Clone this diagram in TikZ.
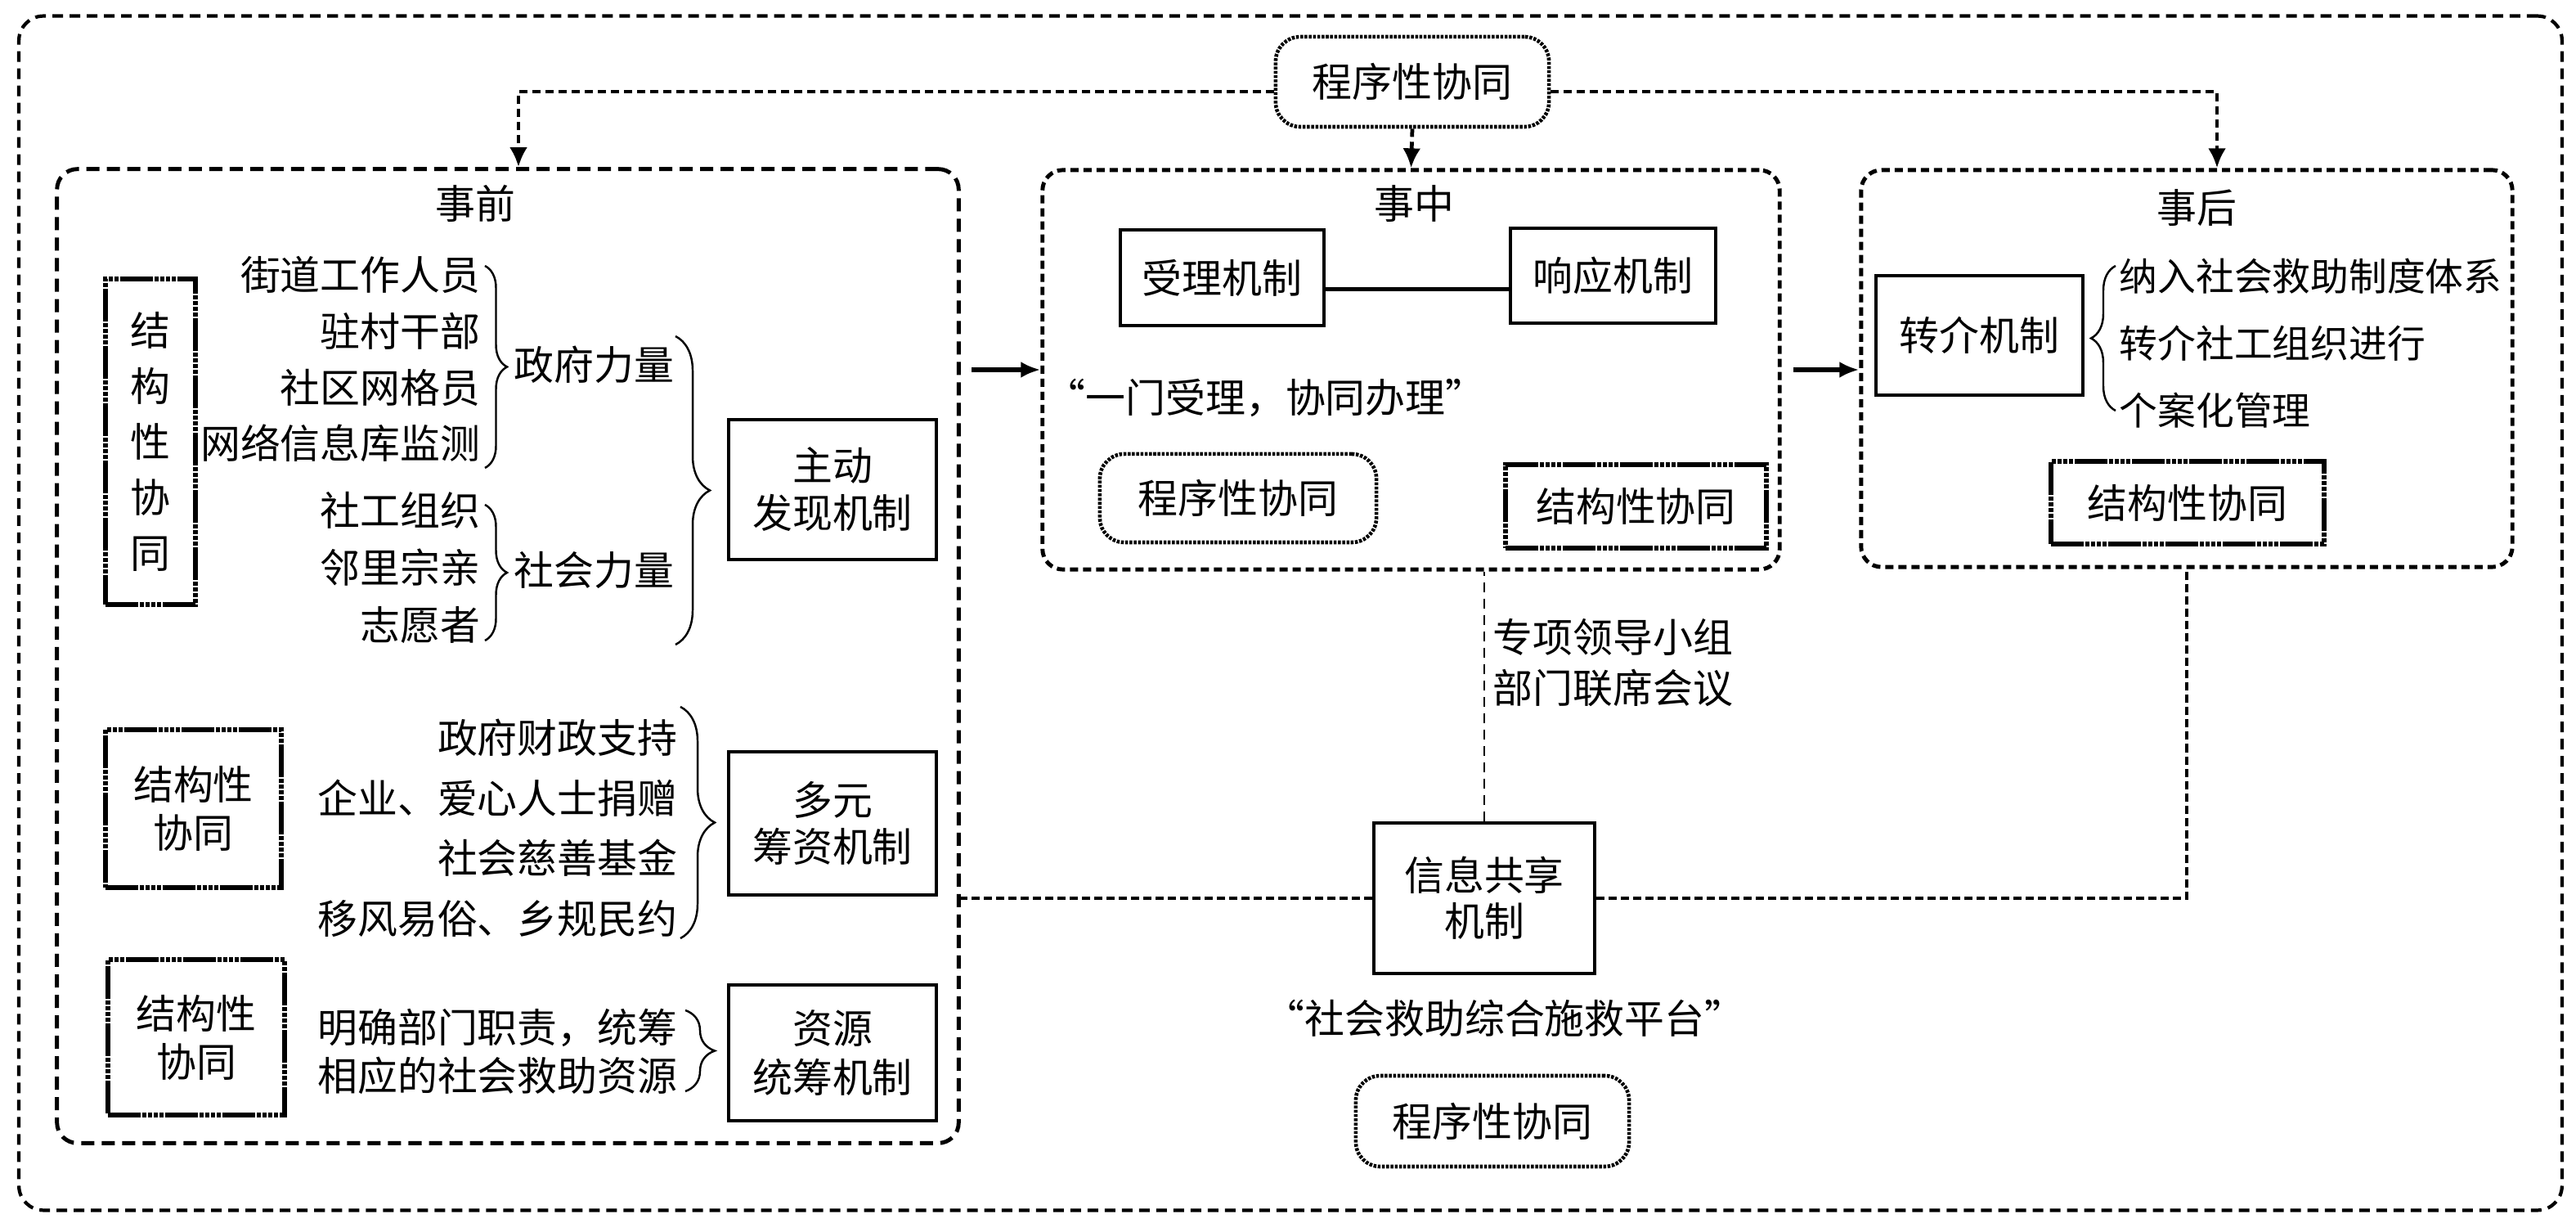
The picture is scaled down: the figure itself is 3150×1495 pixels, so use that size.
\documentclass[tikz,border=0pt]{standalone}
\usepackage{fontspec}
\setmainfont{Noto Sans CJK SC}
\usetikzlibrary{arrows.meta,decorations.pathreplacing,calc}
\newcommand\myfz[1]{\fontsize{13.9pt}{#1}\selectfont}
\begin{document}
\begin{tikzpicture}[x=0.01cm,y=-0.01cm,
  every node/.style={font=\myfz{17pt}, inner sep=0pt},
  mech/.style={draw, line width=1.05pt, align=center},
  prog/.style={draw, rounded corners=0.3cm, line width=1.3pt, dash pattern=on 0.035cm off 0.017cm, minimum width=3.34cm, minimum height=1.1cm},
  struc/.style={draw, line width=1.5pt, align=center, dash pattern=on 0.4cm off 0.02cm on 0.05cm off 0.02cm on 0.05cm off 0.02cm on 0.05cm off 0.02cm on 0.05cm off 0.02cm},
  phase/.style={draw, rounded corners=0.25cm, line width=1.4pt, dash pattern=on 0.1cm off 0.06cm},
  frame/.style={draw, rounded corners=0.3cm, line width=1.2pt, dash pattern=on 0.13cm off 0.08cm},
  darrow/.style={line width=1.35pt, dash pattern=on 0.1cm off 0.06cm, -{Latex[length=0.24cm,width=0.22cm]}},
  sarrow/.style={line width=1.8pt, -{Latex[length=0.24cm,width=0.2cm]}},
  hline/.style={line width=1.1pt, dash pattern=on 0.1cm off 0.05cm},
  vline/.style={line width=0.6pt, dash pattern=on 0.12cm off 0.08cm},
  brace/.style={line width=0.7pt, decorate, decoration={brace, amplitude=#1}},
  brace/.default=0.27cm]
\useasboundingbox (0,0) rectangle (3150,1495);

% outer frame
\node[frame, minimum width=31.08cm, minimum height=14.59cm] (frame) at (1578,749.5) {};

% top node
\node[prog] (top) at (1727,100) {程序性协同};

% phase boxes
\node[phase, minimum width=11.02cm, minimum height=11.9cm, dash pattern=on 0.16cm off 0.09cm] (qian) at (621,802) {};
\node[phase, minimum width=9.01cm, minimum height=4.88cm] (zhong) at (1725.5,452) {};
\node[phase, minimum width=7.96cm, minimum height=4.85cm] (hou) at (2674,450.5) {};
\node (qianlbl) at (581,249) {事前};
\node (zhonglbl) at (1729,249) {事中};
\node (houlbl) at (2686,254) {事后};

% top arrows
\draw[darrow] ([yshift=-0.12cm]top.west) -| ([xshift=0.13cm]qian.north);
\draw[darrow] (top.south) -- (zhong.north);
\draw[darrow] ([yshift=-0.12cm]top.east) -| ([xshift=0.37cm]hou.north);

% --- 事前 ---
\node[struc, minimum width=1.10cm, minimum height=3.98cm, font=\myfz{19.3pt}] (strucv) at (184,540) {结\\构\\性\\协\\同};
\node[anchor=east, align=right, font=\myfz{19.6pt}] (govlist) at (588,439) {街道工作人员\\驻村干部\\社区网格员\\网络信息库监测};
\draw[brace] (593,325) -- (593,572);
\node[anchor=west] (gov) at (628,446) {政府力量};
\node[anchor=east, align=right, font=\myfz{19.9pt}] (soclist) at (588,694) {社工组织\\邻里宗亲\\志愿者};
\draw[brace] (593,617) -- (593,783);
\node[anchor=west] (soc) at (628,697) {社会力量};
\draw[brace=0.42cm] (826,411) -- (826,788);
\node[mech, minimum width=2.54cm, minimum height=1.71cm, font=\myfz{16.5pt}] (zhudong) at (1018,598.5) {主动\\发现机制};

\node[struc, minimum width=2.15cm, minimum height=1.93cm, font=\myfz{16.8pt}] (struc4) at (236.5,988.5) {结构性\\协同};
\node[anchor=east, align=right, font=\myfz{20.9pt}] (fundlist) at (829,1012.5) {政府财政支持\\企业、爱心人士捐赠\\社会慈善基金\\移风易俗、乡规民约};
\draw[brace=0.42cm] (832,864) -- (832,1147);
\node[mech, minimum width=2.54cm, minimum height=1.75cm, font=\myfz{16.3pt}] (duoyuan) at (1018,1006.5) {多元\\筹资机制};

\node[struc, minimum width=2.16cm, minimum height=1.90cm, font=\myfz{16.8pt}] (struc5) at (240,1268) {结构性\\协同};
\node[anchor=east, align=right, font=\myfz{16.8pt}] (reslist) at (829,1285.5) {明确部门职责，统筹\\相应的社会救助资源};
\draw[brace=0.36cm] (838,1235) -- (838,1334);
\node[mech, minimum width=2.54cm, minimum height=1.66cm, font=\myfz{17.2pt}] (ziyuan) at (1018,1287) {资源\\统筹机制};

% --- 事中 ---
\node[mech, minimum width=2.49cm, minimum height=1.17cm] (shouli) at (1494.5,339.5) {受理机制};
\node[mech, minimum width=2.51cm, minimum height=1.16cm] (xiangying) at (1972.5,337) {响应机制};
\draw[line width=1.2pt] ([yshift=-0.14cm]shouli.east) -- ([yshift=-0.14cm]shouli.east -| xiangying.west);
\node[anchor=west] (yimen) at (1278,486) {“一门受理，协同办理”};
\node[prog, minimum width=3.38cm, minimum height=1.08cm] (prog2) at (1514,609) {程序性协同};
\node[struc, minimum width=3.19cm, minimum height=1.02cm] (struc2) at (2000.5,619) {结构性协同};

% --- 事后 ---
\node[mech, minimum width=2.53cm, minimum height=1.46cm] (zhuanjie) at (2420.5,410) {转介机制};
\draw[brace=0.3cm] (2587,502) -- (2587,325);
\node[anchor=west, align=left, font={\fontsize{13.3pt}{23.3pt}\selectfont}] (houlist) at (2591,419.5) {纳入社会救助制度体系\\转介社工组织进行\\个案化管理};
\node[struc, minimum width=3.34cm, minimum height=1.01cm] (struc3) at (2675,614.5) {结构性协同};

% phase arrows
\draw[sarrow] ([xshift=0.13cm]qian.east |- zhong.west) -- (zhong.west);
\draw[sarrow] ([xshift=0.14cm]zhong.east) -- (zhong.east -| hou.west);

% --- info sharing ---
\node[mech, minimum width=2.70cm, minimum height=1.84cm, font=\myfz{15.9pt}] (info) at (1815,1098) {信息共享\\机制};
\draw[vline] (info.north) -- (info.north |- zhong.south);
\node[anchor=west, align=left, font=\myfz{17.6pt}] (lingdao) at (1825,810) {专项领导小组\\部门联席会议};
\draw[hline] (info.west) -- (info.west -| qian.east);
\draw[hline] (info.east) -| (hou.south);
\node (pingtai) at (1840,1245) {“社会救助综合施救平台”};
\node[prog, minimum width=3.34cm, minimum height=1.11cm] (prog3) at (1825,1370.5) {程序性协同};
\end{tikzpicture}
\end{document}
